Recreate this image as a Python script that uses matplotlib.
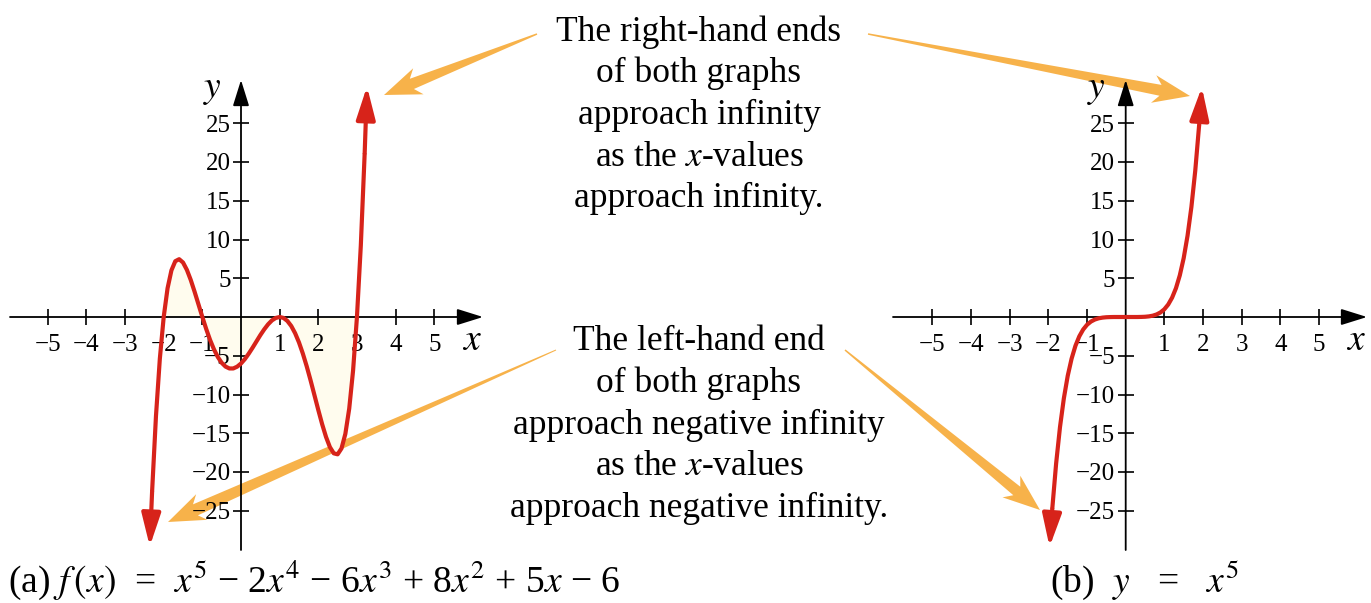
import numpy as np
import matplotlib
matplotlib.use("Agg")
from matplotlib import pyplot as plt
from matplotlib.patches import Polygon

plt.rcParams['font.family'] = ['Liberation Serif', 'DejaVu Serif']
plt.rcParams['mathtext.fontset'] = 'stix'

# (a) f(x) = x^5 - 2x^4 - 6x^3 + 8x^2 + 5x - 6
xa = [-2.36, -2.3, -2.2, -2.1, -2.0, -1.9, -1.8, -1.7, -1.6, -1.5, -1.4, -1.3, -1.2, -1.1,
      -1.0, -0.9, -0.8, -0.7, -0.6, -0.5, -0.4, -0.3, -0.2, -0.1, 0.0, 0.1, 0.2, 0.3,
      0.4, 0.5, 0.6, 0.7, 0.8, 0.9, 1.0, 1.1, 1.2, 1.3, 1.4, 1.5, 1.6, 1.7, 1.8, 1.9,
      2.0, 2.1, 2.2, 2.3, 2.4, 2.5, 2.6, 2.7, 2.8, 2.9, 3.0, 3.1, 3.2, 3.26]
ya = [-29.6, -22.51, -12.78, -5.39, 0.0, 3.71, 6.02, 7.20, 7.46, 7.03, 6.08, 4.78, 3.25, 1.63,
      0.0, -1.55, -2.96, -4.17, -5.16, -5.91, -6.40, -6.64, -6.64, -6.41, -6.0, -5.43, -4.73, -3.96,
      -3.15, -2.34, -1.60, -0.95, -0.44, -0.12, 0.0, -0.12, -0.51, -1.16, -2.09, -3.28, -4.72, -6.36, -8.17, -10.08,
      -12.0, -13.84, -15.48, -16.79, -17.59, -17.72, -16.96, -15.08, -11.82, -6.90, 0.0, 9.22, 21.14, 29.75]

# (b) y = x^5
xb = [-1.97, -1.9, -1.8, -1.7, -1.6, -1.5, -1.4, -1.3, -1.2, -1.1, -1.0, -0.9, -0.8, -0.7,
      -0.6, -0.5, -0.4, -0.3, -0.2, -0.1, 0.0, 0.1, 0.2, 0.3, 0.4, 0.5, 0.6, 0.7, 0.8, 0.9,
      1.0, 1.1, 1.2, 1.3, 1.4, 1.5, 1.6, 1.7, 1.8, 1.9, 1.97]
yb = [-29.67, -24.76, -18.90, -14.20, -10.49, -7.59, -5.38, -3.71, -2.49, -1.61, -1.0, -0.59, -0.33, -0.17,
      -0.08, -0.03, -0.01, 0.0, 0.0, 0.0, 0.0, 0.0, 0.0, 0.0, 0.01, 0.03, 0.08, 0.17, 0.33, 0.59,
      1.0, 1.61, 2.49, 3.71, 5.38, 7.59, 10.49, 14.20, 18.90, 24.76, 29.67]

xticks = [-5, -4, -3, -2, -1, 1, 2, 3, 4, 5]
yticks = [-25, -20, -15, -10, -5, 5, 10, 15, 20, 25]
xticklabels = ['\u2212' + str(-v) if v < 0 else str(v) for v in xticks]
yticklabels = ['\u2212' + str(-v) if v < 0 else str(v) for v in yticks]

top_text = ["The right-hand ends", "of both graphs", "approach infinity",
            "as the $x$-values", "approach infinity."]
bottom_text = ["The left-hand end", "of both graphs", "approach negative infinity",
               "as the $x$-values", "approach negative infinity."]

cap_a = '(a) $f\\,(x)$  =  $x^5$ \u2212 2$x^4$ \u2212 6$x^3$ + 8$x^2$ + 5$x$ \u2212 6'
cap_b = '(b)  $y$   =   $x^5$'

RED = '#d7231a'
ORANGE = '#f7b24a'
W, H = 1371, 603

fig = plt.figure(figsize=(W / 100, H / 100), dpi=100)

# overlay in pixel coordinates for callouts
ov = fig.add_axes([0, 0, 1, 1])
ov.set_xlim(0, W)
ov.set_ylim(H, 0)
ov.axis('off')


def callout(tail, tip, head_len=30, head_w=28, shaft_w=11, tail_w=1.5, barb=7):
    t, p = np.array(tail, float), np.array(tip, float)
    u = (p - t) / np.hypot(*(p - t))
    n = np.array([-u[1], u[0]])
    b = p - u * head_len
    pts = [t + n * tail_w / 2, b + n * shaft_w / 2, b - u * barb + n * head_w / 2, p,
           b - u * barb - n * head_w / 2, b - n * shaft_w / 2, t - n * tail_w / 2]
    ov.add_patch(Polygon(pts, closed=True, fc=ORANGE, ec='none'))


def panel(left_px, right_px, x0_px, xs, ys, fill=False):
    top_px, bot_px = 80, 550
    unit_x, unit_y = 38.65, 7.75
    ax = fig.add_axes([left_px / W, 1 - bot_px / H, (right_px - left_px) / W, (bot_px - top_px) / H])
    ax.patch.set_alpha(0)
    ax.set_xlim((left_px - x0_px) / unit_x, (right_px - x0_px) / unit_x)
    ax.set_ylim((317 - bot_px) / unit_y, (317 - top_px) / unit_y)
    for s in ['top', 'right']:
        ax.spines[s].set_visible(False)
    for s in ['left', 'bottom']:
        ax.spines[s].set_position('zero')
        ax.spines[s].set_visible(False)
    xl, yl = ax.get_xlim(), ax.get_ylim()
    ap = dict(arrowstyle='-|>,head_length=0.8,head_width=0.25', color='black', lw=1.3,
              shrinkA=0, shrinkB=0, mutation_scale=20)
    ax.annotate('', xy=(xl[1], 0), xytext=(xl[0], 0), arrowprops=ap, annotation_clip=False)
    ax.annotate('', xy=(0, yl[1]), xytext=(0, yl[0]), arrowprops=ap, annotation_clip=False)
    ax.set_xticks(xticks)
    ax.set_xticklabels(xticklabels)
    ax.set_yticks(yticks)
    ax.set_yticklabels(yticklabels)
    ax.tick_params(axis='both', direction='inout', length=11, width=1.2, labelsize=18)
    ax.tick_params(axis='x', pad=7)
    ax.tick_params(axis='y', pad=2)
    if fill:
        xsa, ysa = np.array(xs), np.array(ys)
        m = (xsa >= -2) & (xsa <= 3)
        ax.fill_between(xsa[m], ysa[m], 0, color='#fffcee', lw=0, zorder=0)
    ax.plot(xs[1:-1], ys[1:-1], color=RED, lw=3, solid_capstyle='butt', zorder=3)
    hp = dict(arrowstyle='-|>,head_length=0.55,head_width=0.16', color=RED, lw=3,
              shrinkA=0, shrinkB=0, mutation_scale=36)
    ax.annotate('', xy=(xs[0], ys[0]), xytext=(xs[1], ys[1]), arrowprops=hp, zorder=3,
                annotation_clip=False)
    ax.annotate('', xy=(xs[-1], ys[-1]), xytext=(xs[-2], ys[-2]), arrowprops=hp, zorder=3,
                annotation_clip=False)
    ax.text(xl[1] - 0.3, -3.0, '$x$', fontsize=27, ha='center', va='center')
    ax.text(-0.75, yl[1] - 1.3, '$y$', fontsize=27, ha='center', va='center')
    return ax


# callout arrows (drawn first, underneath the graphs)
callout((537, 34), (384, 95))
callout((868, 34), (1190, 96))
callout((556, 350), (168, 522), tail_w=1.0, shaft_w=12)
callout((845, 350), (1040, 510))

ax1 = panel(10, 483, 241, xa, ya, fill=True)
ax2 = panel(893, 1367, 1125.7, xb, yb)

for i, line in enumerate(top_text):
    ov.text(699, 41 + i * 41.5, line, fontsize=25.5, ha='center', va='baseline')
for i, line in enumerate(bottom_text):
    ov.text(699, 350 + i * 41.8, line, fontsize=25.5, ha='center', va='baseline')

ov.text(8, 592, cap_a, fontsize=27, ha='left', va='baseline')
ov.text(1050, 592, cap_b, fontsize=27, ha='left', va='baseline')

fig.savefig('out.png', dpi=100)
